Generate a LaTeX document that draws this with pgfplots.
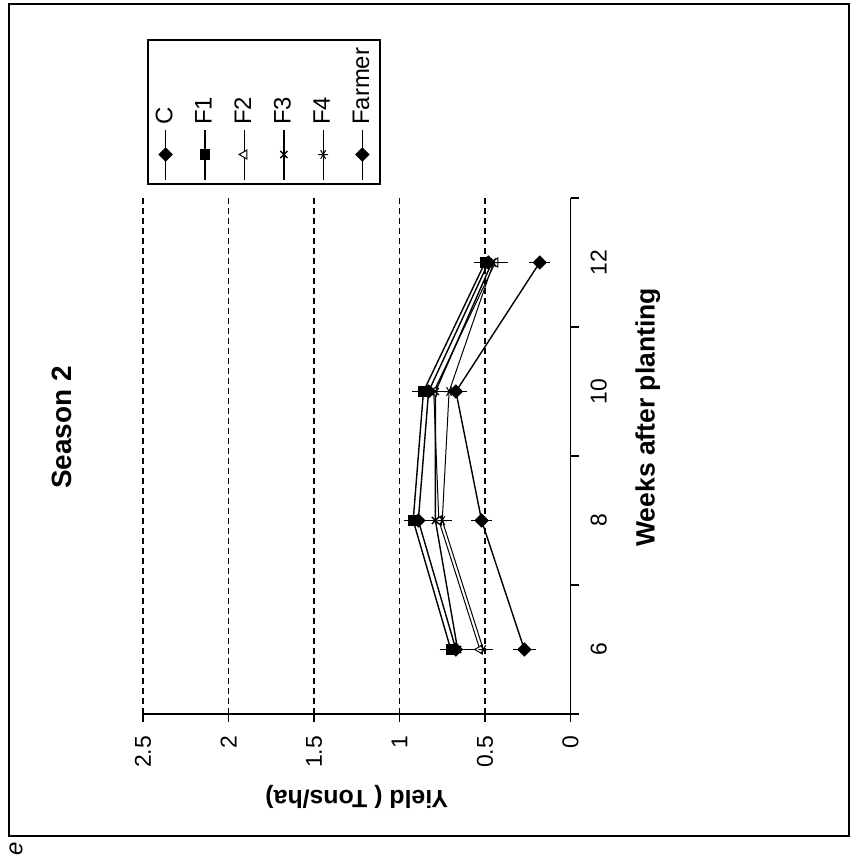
\documentclass[border=0pt]{standalone}
\usepackage{fontspec}
\setmainfont{Liberation Sans}
\usepackage{pgfplots}
\pgfplotsset{compat=1.18}
\begin{document}
\begin{tikzpicture}
\path[use as bounding box] (0,0) rectangle (426bp,432bp);
\draw[line width=0.75bp] (4.5bp,14bp) rectangle (424.5bp,430bp);
\node[font=\itshape\fontsize{12}{12}\selectfont, rotate=90, inner sep=0pt] at (8bp,7.5bp) {e};
\begin{scope}[rotate=90, transform shape]
\begin{axis}[
  at={(75bp,-285.25bp)}, anchor=south west,
  scale only axis, width=258bp, height=213.75bp,
  xmin=5, xmax=13, ymin=0, ymax=2.5,
  clip=false,
  axis x line*=bottom, axis y line*=left,
  axis line style={line width=0.9bp, -},
  xtick={5,7,9,11,13}, xticklabels={},
  extra x ticks={6,8,10,12},
  extra x tick labels={6,8,10,12},
  extra x tick style={major tick length=0pt},
  ytick={0,0.5,1,1.5,2,2.5},
  yticklabels={0,0.5,1,1.5,2,2.5},
  tick align=outside,
  major tick length=4bp,
  tick style={line width=0.9bp, black},
  ymajorgrids,
  grid style={black, line width=0.7bp, dash pattern=on 3bp off 2bp},
  ticklabel style={font=\fontsize{11.5}{13}\selectfont},
  /pgf/number format/assume math mode=true,
  xticklabel style={yshift=-6.5bp},
  yticklabel style={xshift=-3.5bp},
  xlabel={Weeks after planting},
  xlabel style={at={(axis description cs:0.575,-0.181)}, anchor=center, font=\bfseries\fontsize{13.3}{15}\selectfont},
  ylabel={Yield ( Tons/ha)},
  ylabel style={at={(axis description cs:-0.161,0.5)}, anchor=center, font=\bfseries\fontsize{12.5}{15}\selectfont},
  legend style={at={(1.025,0.991)}, anchor=north west, draw=black, line width=0.9bp, inner xsep=2bp, inner ysep=2bp,
    row sep=5.9bp, font=\fontsize{12}{14}\selectfont, cells={anchor=west},
    nodes={inner sep=2bp, text depth=0.15em}},
  legend image code/.code={\draw[mark repeat=2,mark phase=2,#1] plot coordinates {(0bp,0bp) (12.5bp,0bp) (25bp,0bp)};},
  eb/.style={error bars/.cd, y dir=both, y explicit,
    error bar style={line width=0.6bp, black, solid},
    error mark options={mark size=2.2bp, line width=0.6bp, black, solid}},
]
\addplot[black, line width=0.7bp, mark=square*, mark size=2.2bp, mark options={rotate=45, solid}, eb]
  coordinates {(6,0.27) +- (0,0.04) (8,0.52) +- (0,0.035) (10,0.67) +- (0,0.04) (12,0.18) +- (0,0.035)};
\addlegendentry{C}
\addplot[black, line width=0.7bp, mark=square*, mark size=2.2bp, mark options={solid}, eb]
  coordinates {(6,0.70) +- (0,0.04) (8,0.92) +- (0,0.03) (10,0.86) +- (0,0.04) (12,0.50) +- (0,0.04)};
\addlegendentry{F1}
\addplot[black, line width=0.5bp, mark=triangle*, mark size=2.6bp, mark options={solid, fill=white}, eb]
  coordinates {(6,0.53) +- (0,0.03) (8,0.77) +- (0,0.03) (10,0.80) +- (0,0.03) (12,0.44) +- (0,0.05)};
\addlegendentry{F2}
\addplot[black, line width=0.7bp, mark=x, mark size=2.5bp, mark options={solid}, eb]
  coordinates {(6,0.66) +- (0,0.05) (8,0.79) +- (0,0.03) (10,0.79) +- (0,0.04) (12,0.46) +- (0,0.04)};
\addlegendentry{F3}
\addplot[black, line width=0.5bp, mark=asterisk, mark size=2.5bp, mark options={solid}, eb]
  coordinates {(6,0.51) +- (0,0.03) (8,0.75) +- (0,0.03) (10,0.71) +- (0,0.04) (12,0.45) +- (0,0.04)};
\addlegendentry{F4}
\addplot[black, line width=0.7bp, mark=square*, mark size=2.2bp, mark options={rotate=45, solid}, eb]
  coordinates {(6,0.67) +- (0,0.04) (8,0.89) +- (0,0.04) (10,0.83) +- (0,0.04) (12,0.48) +- (0,0.03)};
\addlegendentry{Farmer}
\node[font=\bfseries\fontsize{14}{16}\selectfont] at (axis description cs:0.555,1.189) {Season 2};
\end{axis}
\end{scope}
\end{tikzpicture}
\end{document}
